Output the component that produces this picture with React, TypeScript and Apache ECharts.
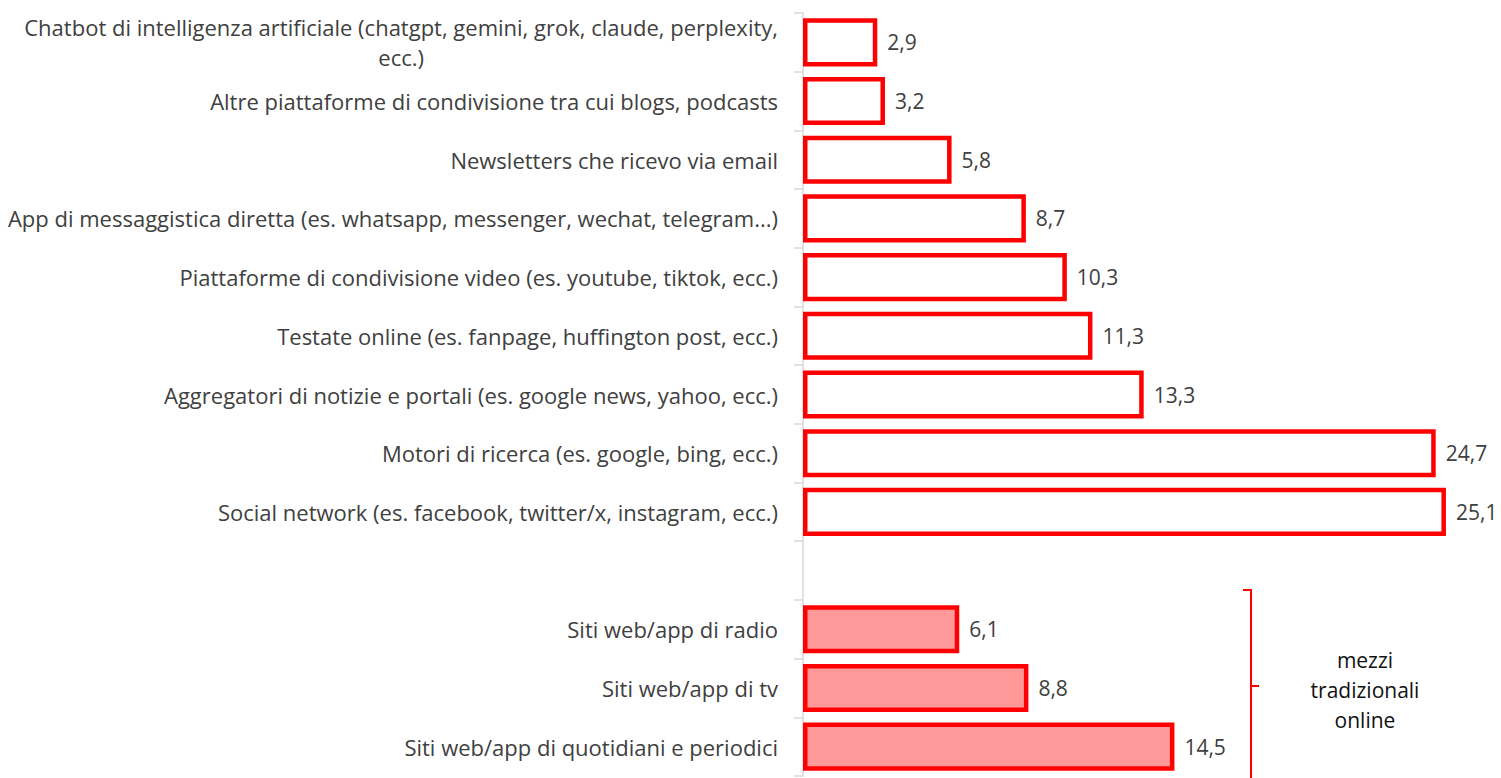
import React, { useEffect, useRef } from "react";
import * as echarts from "echarts";

const categories = [
  "Chatbot di intelligenza artificiale (chatgpt, gemini, grok, claude, perplexity,\necc.)",
  "Altre piattaforme di condivisione tra cui blogs, podcasts",
  "Newsletters che ricevo via email",
  "App di messaggistica diretta (es. whatsapp, messenger, wechat, telegram...)",
  "Piattaforme di condivisione video (es. youtube, tiktok, ecc.)",
  "Testate online (es. fanpage, huffington post, ecc.)",
  "Aggregatori di notizie e portali (es. google news, yahoo, ecc.)",
  "Motori di ricerca (es. google, bing, ecc.)",
  "Social network (es. facebook, twitter/x, instagram, ecc.)",
  "",
  "Siti web/app di radio",
  "Siti web/app di tv",
  "Siti web/app di quotidiani e periodici",
];

const onlineValues: (number | null)[] = [2.9, 3.2, 5.8, 8.7, 10.3, 11.3, 13.3, 24.7, 25.1, null, null, null, null];
const traditionalValues: (number | null)[] = [null, null, null, null, null, null, null, null, null, null, 6.1, 8.8, 14.5];

const bracketText = "mezzi\ntradizionali\nonline";

const FONT = "'Open Sans', 'Noto Sans', sans-serif";
const TEXT_COLOR = "#404040";
const LABEL_SIZE = 22;

export default function App() {
  const ref = useRef<HTMLDivElement>(null);
  useEffect(() => {
    if (!ref.current) return;
    const chart = echarts.init(ref.current, undefined, { renderer: "svg" });
    const fmt = (p: any) =>
      p.value == null ? "" : Number(p.value).toFixed(1).replace(".", ",");
    const labelCfg = {
      show: true,
      position: "right" as const,
      distance: 10,
      color: TEXT_COLOR,
      fontSize: 21,
      fontFamily: FONT,
      formatter: fmt,
    };
    chart.setOption({
      animation: false,
      grid: { left: 803, right: 32, top: 13, bottom: 2, containLabel: false },
      xAxis: {
        type: "value",
        min: 0,
        max: 26,
        show: false,
        splitLine: { show: false },
      },
      yAxis: {
        type: "category",
        inverse: true,
        data: categories,
        axisLine: { show: true, lineStyle: { color: "#d9d9d9", width: 1.5 } },
        axisTick: { show: true, length: 9, lineStyle: { color: "#d9d9d9", width: 1.5 } },
        axisLabel: {
          margin: 25,
          color: TEXT_COLOR,
          fontSize: LABEL_SIZE,
          fontFamily: FONT,
          lineHeight: 30,
          formatter: (v: string) => {
            const parts = v.split("\n");
            if (parts.length > 1) {
              return parts
                .map((s, i) => (i === 0 ? "{r|" + s + "}" : "{c|" + s + "}"))
                .join("\n");
            }
            return v;
          },
          rich: {
            r: { fontSize: LABEL_SIZE, fontFamily: FONT, color: TEXT_COLOR, lineHeight: 30 },
            c: { fontSize: LABEL_SIZE, fontFamily: FONT, color: TEXT_COLOR, lineHeight: 30, align: "center" },
          },
        },
      },
      series: [
        {
          type: "bar",
          data: onlineValues,
          barWidth: "82%",
          itemStyle: { color: "#ffffff", borderColor: "#ff0000", borderWidth: 4.5 },
          label: labelCfg,
        },
        {
          type: "bar",
          data: traditionalValues,
          barWidth: "82%",
          barGap: "-100%",
          itemStyle: { color: "#ff9999", borderColor: "#ff0000", borderWidth: 4.5 },
          label: labelCfg,
        },
      ],
      graphic: [
        {
          type: "polyline",
          shape: { points: [[1243, 590], [1251, 590], [1251, 790]] },
          style: { stroke: "#ff0000", lineWidth: 2, fill: "none" },
        },
        {
          type: "line",
          shape: { x1: 1251, y1: 686, x2: 1259, y2: 686 },
          style: { stroke: "#ff0000", lineWidth: 2 },
        },
        {
          type: "text",
          x: 1365,
          y: 690,
          style: {
            text: bracketText,
            fontSize: 21,
            fontFamily: FONT,
            fill: "#111111",
            align: "center",
            verticalAlign: "middle",
            lineHeight: 30,
          },
        },
      ],
    });
    return () => chart.dispose();
  }, []);
  return (
    <div
      ref={ref}
      style={{ position: "absolute", left: 0, top: 0, width: 1501, height: 778 }}
    />
  );
}
